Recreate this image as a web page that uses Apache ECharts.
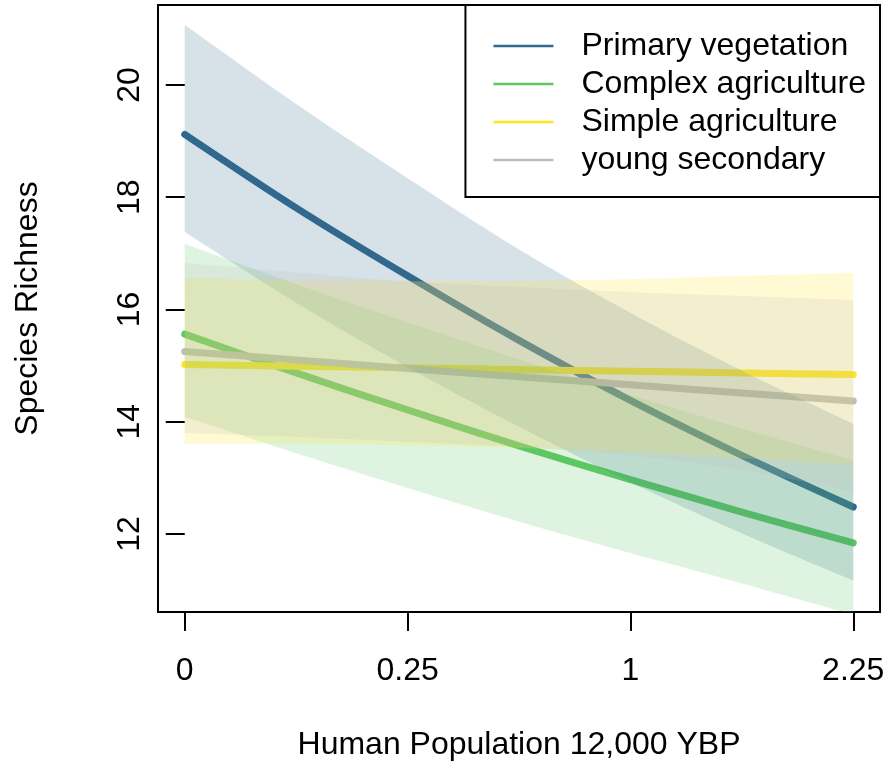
<!DOCTYPE html>
<html>
<head>
<meta charset="utf-8">
<script src="https://cdn.jsdelivr.net/npm/echarts@6/dist/echarts.min.js"></script>
<style>
  html, body { margin: 0; padding: 0; background: #fff; }
  #chart { width: 888px; height: 769px; }
</style>
</head>
<body>
<div id="chart"></div>
<script>
// ---- Data (x in original units; axis is square-root spaced) ----
const xRaw = [0, 0.0625, 0.25, 0.5625, 1, 1.5625, 2.25];
const tickValues = [0, 0.25, 1, 2.25];
const tickLabels = ['0', '0.25', '1', '2.25'];
const yTicks = [12, 14, 16, 18, 20];

const seriesNames = ['Primary vegetation', 'Complex agriculture', 'Simple agriculture', 'young secondary'];
const seriesColors = ['#31688E', '#5DC863', '#FDE725', '#BEBEBE'];

const primaryFit   = [19.12, 17.81, 16.60, 15.45, 14.38, 13.40, 12.48];
const primaryUpper = [21.07, 19.66, 18.34, 17.07, 15.94, 14.91, 13.96];
const primaryLower = [17.38, 16.12, 14.97, 13.91, 12.92, 12.01, 11.17];

const complexFit   = [15.56, 14.87, 14.21, 13.57, 12.97, 12.39, 11.84];
const complexUpper = [17.17, 16.45, 15.77, 15.11, 14.48, 13.88, 13.31];
const complexLower = [14.09, 13.44, 12.82, 12.22, 11.66, 11.12, 10.56];

const simpleFit    = [15.02, 14.99, 14.96, 14.93, 14.90, 14.87, 14.84];
const simpleUpper  = [16.56, 16.52, 16.51, 16.51, 16.54, 16.60, 16.65];
const simpleLower  = [13.61, 13.61, 13.58, 13.53, 13.46, 13.35, 13.23];

const youngFit     = [15.25, 15.10, 14.95, 14.80, 14.66, 14.51, 14.37];
const youngUpper   = [16.83, 16.66, 16.50, 16.40, 16.31, 16.24, 16.17];
const youngLower   = [13.80, 13.73, 13.64, 13.55, 13.40, 13.14, 12.75];

const fits   = [primaryFit, complexFit, simpleFit, youngFit];
const uppers = [primaryUpper, complexUpper, simpleUpper, youngUpper];
const lowers = [primaryLower, complexLower, simpleLower, youngLower];

// ---- Build chart ----
const FONT = "'Liberation Sans', Arial, Helvetica, sans-serif";
const FS = 32;
const sx = v => Math.sqrt(v);
const xs = xRaw.map(sx);
const pairs = arr => arr.map((v, i) => [xs[i], v]);

// Smooth a pixel polyline with Catmull-Rom -> cubic Bezier sampling (drawing only)
function smoothPixels(pts, steps) {
  const out = [];
  const n = pts.length;
  for (let i = 0; i < n - 1; i++) {
    const p0 = pts[Math.max(i - 1, 0)], p1 = pts[i], p2 = pts[i + 1], p3 = pts[Math.min(i + 2, n - 1)];
    const c1 = [p1[0] + (p2[0] - p0[0]) / 6, p1[1] + (p2[1] - p0[1]) / 6];
    const c2 = [p2[0] - (p3[0] - p1[0]) / 6, p2[1] - (p3[1] - p1[1]) / 6];
    for (let s = 0; s < steps; s++) {
      const t = s / steps, u = 1 - t;
      out.push([
        u*u*u*p1[0] + 3*u*u*t*c1[0] + 3*u*t*t*c2[0] + t*t*t*p2[0],
        u*u*u*p1[1] + 3*u*u*t*c1[1] + 3*u*t*t*c2[1] + t*t*t*p2[1]
      ]);
    }
  }
  out.push(pts[n - 1]);
  return out;
}

const series = [];
// fitted lines (drawn underneath the translucent bands)
fits.forEach((arr, k) => {
  series.push({
    name: seriesNames[k], type: 'line', data: pairs(arr),
    smooth: 0.3, symbol: 'none', z: 2, silent: true,
    color: seriesColors[k],
    lineStyle: { color: seriesColors[k], width: 7, cap: 'round', join: 'round' }
  });
});
// confidence bands as polygons built through the axes
fits.forEach((arr, k) => {
  const rows = xs.map((x, i) => [x, lowers[k][i], uppers[k][i]]);
  series.push({
    type: 'custom', z: 3, silent: true, clip: true,
    data: rows,
    encode: { x: 0, y: [1, 2] },
    renderItem: (params, api) => {
      if (params.dataIndex !== 0) return null;
      const up = rows.map(r => api.coord([r[0], r[2]]));
      const lo = rows.map(r => api.coord([r[0], r[1]]));
      const top = smoothPixels(up, 16);
      const bot = smoothPixels(lo, 16).reverse();
      return {
        type: 'polygon',
        shape: { points: top.concat(bot) },
        style: { fill: seriesColors[k], opacity: 0.2 }
      };
    }
  });
});

const chart = echarts.init(document.getElementById('chart'), null, { renderer: 'canvas' });
chart.setOption({
  animation: false,
  backgroundColor: '#fff',
  textStyle: { fontFamily: FONT },
  grid: { left: 158, top: 5, width: 722, height: 607, show: true, borderColor: '#000', borderWidth: 2, backgroundColor: 'transparent' },
  xAxis: {
    type: 'value', min: -0.06, max: 1.56,
    splitLine: { show: false },
    axisLine: { show: false },
    axisTick: { show: true, length: 19, customValues: tickValues.map(sx), lineStyle: { color: '#000', width: 2 } },
    axisLabel: {
      customValues: tickValues.map(sx), margin: 43, fontSize: FS, color: '#000', fontFamily: FONT,
      formatter: v => { const i = tickValues.map(sx).findIndex(t => Math.abs(t - v) < 1e-6); return i >= 0 ? tickLabels[i] : ''; }
    },
    name: 'Human Population 12,000 YBP', nameLocation: 'middle', nameGap: 117,
    nameTextStyle: { fontSize: FS, color: '#000', fontFamily: FONT }
  },
  yAxis: {
    type: 'value', min: 10.61, max: 21.425,
    splitLine: { show: false },
    axisLine: { show: false },
    axisTick: { show: true, length: 19, customValues: yTicks, lineStyle: { color: '#000', width: 2 } },
    axisLabel: { customValues: yTicks, rotate: 90, margin: 12, fontSize: FS, color: '#000', fontFamily: FONT },
    name: 'Species Richness', nameLocation: 'middle', nameRotate: 90, nameGap: 114,
    nameTextStyle: { fontSize: FS, color: '#000', fontFamily: FONT }
  },
  legend: {
    data: seriesNames, orient: 'vertical', right: 8, top: 5,
    itemWidth: 60, itemHeight: 32, itemGap: 6,
    padding: [25, 14, 21, 28],
    backgroundColor: '#fff', borderColor: '#000', borderWidth: 2, borderRadius: 0,
    icon: 'path://M0,0L60,0L60,2.5L0,2.5Z',
    textStyle: { fontSize: FS, color: '#000', fontFamily: FONT, lineHeight: 32, padding: [0, 0, 0, 23] },
    selectedMode: false
  },
  series: series
});
</script>
</body>
</html>
